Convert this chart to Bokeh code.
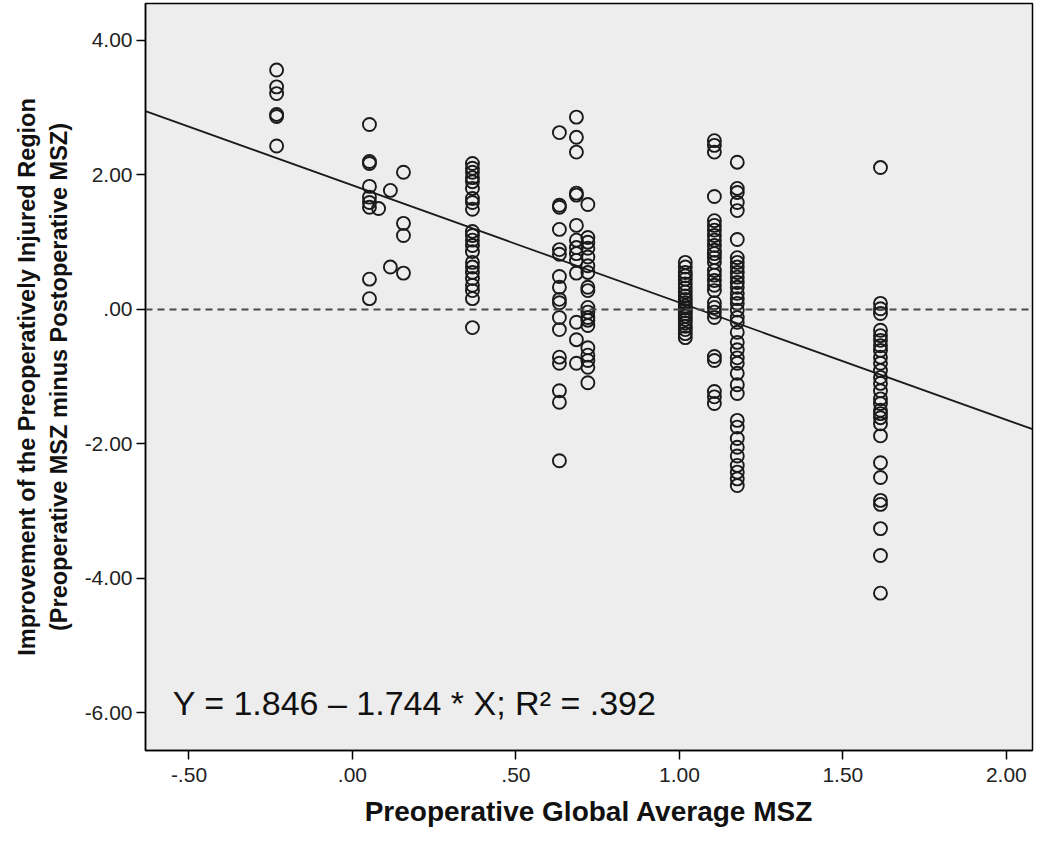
import numpy as np
from bokeh.plotting import figure
from bokeh.models import Label, Span
from bokeh.embed import file_html
from bokeh.resources import INLINE

# ---- data ----
x_levels = [-0.232, 0.052, 0.080, 0.116, 0.156, 0.367, 0.633, 0.685, 0.720,
            1.018, 1.107, 1.177, 1.615]

y_at_m023 = [3.56, 3.31, 3.21, 2.90, 2.87, 2.43]
y_at_005 = [2.75, 2.20, 2.17, 1.83, 1.67, 1.59, 1.52, 0.45, 0.16]
y_at_008 = [1.50]
y_at_012 = [1.77, 0.63]
y_at_016 = [2.04, 1.28, 1.10, 0.54]
y_at_037 = [2.17, 2.10, 2.04, 1.96, 1.90, 1.80, 1.65, 1.59, 1.49, 1.16, 1.10,
            1.03, 0.95, 0.86, 0.70, 0.63, 0.55, 0.46, 0.36, 0.28, 0.16, -0.27]
y_at_063 = [2.63, 1.55, 1.52, 1.19, 0.89, 0.82, 0.49, 0.33, 0.15, 0.10, -0.12,
            -0.30, -0.71, -0.80, -1.21, -1.38, -2.25]
y_at_069 = [2.86, 2.56, 2.34, 1.73, 1.70, 1.25, 1.03, 0.92, 0.83, 0.73, 0.54,
            -0.19, -0.45, -0.80]
y_at_072 = [1.56, 1.07, 1.00, 0.91, 0.78, 0.65, 0.55, 0.33, 0.28, 0.03, -0.04,
            -0.12, -0.16, -0.24, -0.57, -0.68, -0.76, -0.86, -1.09]
y_at_102 = [0.70, 0.63, 0.55, 0.50, 0.45, 0.38, 0.32, 0.26, 0.20, 0.15, 0.10,
            0.05, 0.02, -0.02, -0.06, -0.10, -0.15, -0.20, -0.25, -0.30, -0.36, -0.42]
y_at_111 = [2.51, 2.44, 2.34, 1.68, 1.32, 1.25, 1.18, 1.10, 1.03, 0.95, 0.88,
            0.83, 0.77, 0.70, 0.58, 0.51, 0.43, 0.36, 0.28, 0.10, 0.03, -0.04,
            -0.12, -0.70, -0.76, -1.22, -1.30, -1.40]
y_at_118 = [2.19, 1.80, 1.74, 1.59, 1.47, 1.04, 0.77, 0.70, 0.63, 0.55, 0.48,
            0.40, 0.33, 0.24, 0.16, 0.09, -0.01, -0.12, -0.19, -0.34, -0.49,
            -0.60, -0.72, -0.80, -0.95, -1.12, -1.25, -1.65, -1.75, -1.92, -2.05,
            -2.18, -2.32, -2.42, -2.52, -2.62]
y_at_162 = [2.11, 0.09, 0.01, -0.06, -0.31, -0.39, -0.46, -0.54, -0.61, -0.71,
            -0.80, -0.91, -1.01, -1.10, -1.21, -1.33, -1.40, -1.50, -1.55, -1.61,
            -1.70, -1.88, -2.28, -2.50, -2.84, -2.90, -3.26, -3.66, -4.22]

y_groups = [y_at_m023, y_at_005, y_at_008, y_at_012, y_at_016, y_at_037,
            y_at_063, y_at_069, y_at_072, y_at_102, y_at_111, y_at_118, y_at_162]

intercept = 1.846
slope = -1.744
fit_text = "Y = 1.846 \u2013 1.744 * X; R\u00b2 = .392"

x_ticks = [-0.5, 0.0, 0.5, 1.0, 1.5, 2.0]
x_tick_labels = ["-.50", ".00", ".50", "1.00", "1.50", "2.00"]
y_ticks = [-6, -4, -2, 0, 2, 4]
y_tick_labels = ["-6.00", "-4.00", "-2.00", ".00", "2.00", "4.00"]

x_title = "Preoperative Global Average MSZ"
y_title = ("Improvement of the Preoperatively Injured Region\n"
           "(Preoperative MSZ minus Postoperative MSZ)")

# ---- build ----
xs, ys = [], []
for xv, yl in zip(x_levels, y_groups):
    xs += [xv] * len(yl)
    ys += yl

x_lo, x_hi = -0.633, 2.08
y_lo, y_hi = -6.56, 4.55

FONT = "Liberation Sans"

p = figure(width=1034, height=829, x_range=(x_lo, x_hi), y_range=(y_lo, y_hi),
           output_backend="svg", toolbar_location=None,
           min_border_left=145, min_border_right=2, min_border_top=3,
           min_border_bottom=79)

p.background_fill_color = "#ededed"
p.border_fill_color = "white"
p.outline_line_color = "black"
p.outline_line_width = 1.5
p.grid.visible = False

p.scatter(xs, ys, size=13, marker="circle", fill_color=None,
          line_color="#1a1a1a", line_width=1.9)

p.add_layout(Span(location=0, dimension="width", line_color="#4a4a4a",
                  line_width=2, line_dash="7 5"))

fx = np.array([x_lo, x_hi])
p.line(fx, intercept + slope * fx, line_color="#1a1a1a", line_width=1.8)

p.add_layout(Label(x=-0.55, y=-5.86, text=fit_text, text_font=FONT,
                   text_font_size="34px", text_baseline="middle",
                   text_color="#111111"))

p.xaxis.ticker = x_ticks
p.yaxis.ticker = y_ticks
p.xaxis.major_label_overrides = dict(zip(x_ticks, x_tick_labels))
p.yaxis.major_label_overrides = dict(zip(y_ticks, y_tick_labels))

for ax in (p.xaxis, p.yaxis):
    ax.axis_line_color = "black"
    ax.axis_line_width = 1.5
    ax.major_tick_line_color = "black"
    ax.major_tick_line_width = 1.5
    ax.major_tick_in = 0
    ax.major_tick_out = 9
    ax.minor_tick_line_color = None
    ax.major_label_text_font = FONT
    ax.major_label_text_font_size = "21px"
    ax.major_label_text_color = "#222222"
    ax.axis_label_text_font = FONT
    ax.axis_label_text_font_style = "bold"
    ax.axis_label_text_color = "#111111"

p.xaxis.axis_label = x_title
p.xaxis.axis_label_text_font_size = "28px"
p.xaxis.major_label_standoff = 8
p.xaxis.axis_label_standoff = 11

p.yaxis.axis_label = y_title
p.yaxis.axis_label_text_font_size = "23.5px"
p.yaxis.major_label_standoff = 4
p.yaxis.axis_label_standoff = 10

open("out.html", "w").write(file_html(p, INLINE))
